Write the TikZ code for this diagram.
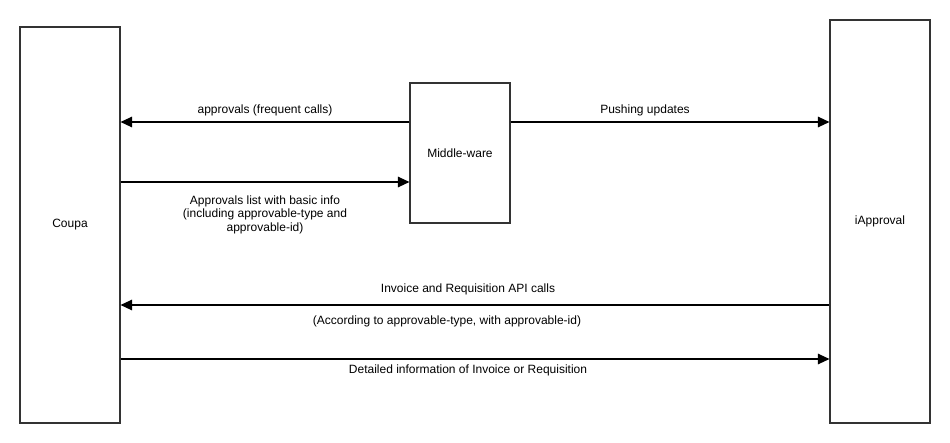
\documentclass[tikz,border=0pt]{standalone}
\usepackage{fontspec}
\setmainfont{Liberation Sans}
\usetikzlibrary{arrows.meta}

\begin{document}
\begin{tikzpicture}[x=1pt,y=-1pt]

		\useasboundingbox (0,0) rectangle (950,442);

		\tikzstyle{system}=[draw=black!80, line width=1.1pt, rectangle, minimum width=100pt, inner sep=0pt, font=\fontsize{12}{13.5}\selectfont]

		\node[system, minimum height=396pt] (C) at (70,225) {Coupa};
		\node[system, minimum height=140pt] (M) at (460,153) {Middle-ware};
		\node[system, minimum height=403pt] (I) at (880,221.5) {iApproval};

		\tikzstyle{msg}=[align=center, inner sep=0pt, font=\fontsize{12}{13.5}\selectfont]

		\node[msg] (LA) at (265,110) {approvals (frequent calls)};
		\node[msg] (LB) at (265,214.5) {Approvals list with basic info\\(including approvable-type and\\approvable-id)};
		\node[msg] (LP) at (645,110) {Pushing updates};
		\node[msg] (LI) at (468,289) {Invoice and Requisition API calls};
		\node[msg] (LT) at (447,321) {(According to approvable-type, with approvable-id)};
		\node[msg] (LD) at (468,370) {Detailed information of Invoice or Requisition};

		\tikzstyle{linkArrow}=[-{Triangle[length=11.5pt,width=10.5pt]}, line width=1.2pt, black]

		\draw[linkArrow] ([yshift=31pt]M.west)--([yshift=31pt]M.west -| C.east);
		\draw[linkArrow] ([yshift=-29pt]M.west -| C.east)--([yshift=-29pt]M.west);
		\draw[linkArrow] ([yshift=31pt]M.east)--([yshift=31pt]M.east -| I.west);

		\draw[linkArrow] ([yshift=-83.5pt]I.west)--([yshift=-83.5pt]I.west -| C.east);
		\draw[linkArrow] ([yshift=-137.5pt]I.west -| C.east)--([yshift=-137.5pt]I.west);

	\end{tikzpicture}
\end{document}
